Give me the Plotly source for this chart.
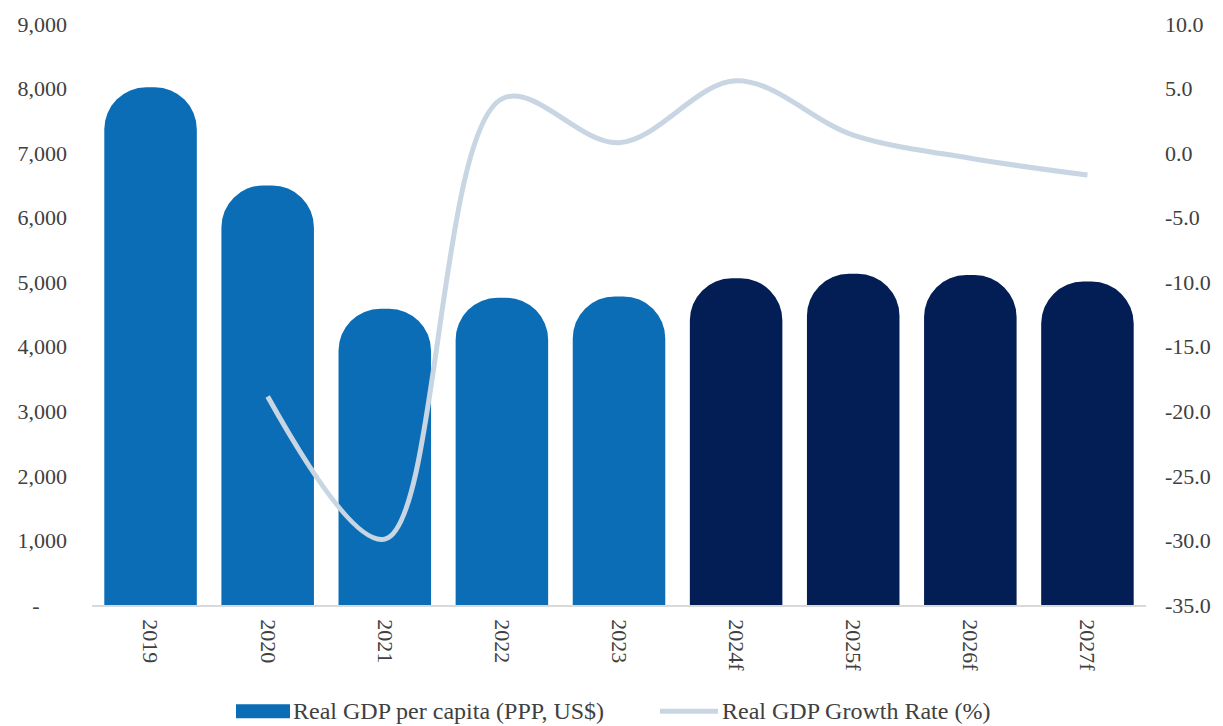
import plotly.graph_objects as go

years = ["2019", "2020", "2021", "2022", "2023", "2024f", "2025f", "2026f", "2027f"]
gdp_per_capita = [8020, 6500, 4590, 4760, 4780, 5060, 5130, 5110, 5010]
growth_years = ["2020", "2021", "2022", "2023", "2024f", "2025f", "2026f", "2027f"]
growth_rate = [-18.85, -29.9, 4.2, 0.8, 5.6, 1.4, -0.4, -1.7]
left_ticks = [0, 1000, 2000, 3000, 4000, 5000, 6000, 7000, 8000, 9000]
left_ticktext = ["-     ", "1,000", "2,000", "3,000", "4,000", "5,000", "6,000", "7,000", "8,000", "9,000"]
right_ticks = [-35, -30, -25, -20, -15, -10, -5, 0, 5, 10]
right_ticktext = ["-35.0", "-30.0", "-25.0", "-20.0", "-15.0", "-10.0", "-5.0", "0.0", "5.0", "10.0"]

LIGHT = "#0A6DB5"
DARK = "#031D55"
LINE = "#C8D5E3"
FONT = "Liberation Serif"
TXT = "#404040"

bar_colors = [DARK if y.endswith("f") else LIGHT for y in years]

fig = go.Figure()
fig.add_trace(go.Bar(x=years, y=gdp_per_capita, marker=dict(color=bar_colors, cornerradius=42, line=dict(width=0)),
                     name="Real GDP per capita (PPP, US$)", showlegend=False))
fig.add_trace(go.Scatter(x=growth_years, y=growth_rate, mode="lines", yaxis="y2",
                         line=dict(color=LINE, width=5, shape="spline", smoothing=1.0),
                         name="Real GDP Growth Rate (%)", showlegend=False))

W, H = 1223, 726
L, R, T, B = 92, 77, 20, 121
pw, ph = W - L - R, H - T - B

def px(x):
    return (x - L) / pw

def py(y):
    return (H - B - y) / ph

shapes = [
    dict(type="rect", xref="paper", yref="paper", x0=px(236), x1=px(290), y0=py(719), y1=py(705),
         fillcolor=LIGHT, line=dict(width=0)),
    dict(type="line", xref="paper", yref="paper", x0=px(660), x1=px(718), y0=py(712), y1=py(712),
         line=dict(color=LINE, width=5)),
]
annotations = [
    dict(xref="paper", yref="paper", x=px(291), y=py(712), xanchor="left", yanchor="middle", showarrow=False,
         text="Real GDP per capita (PPP, US$)", font=dict(family=FONT, size=24, color=TXT)),
    dict(xref="paper", yref="paper", x=px(720), y=py(712), xanchor="left", yanchor="middle", showarrow=False,
         text="Real GDP Growth Rate (%)", font=dict(family=FONT, size=24, color=TXT)),
]

fig.update_layout(
    width=W, height=H,
    margin=dict(l=L, r=R, t=T, b=B),
    paper_bgcolor="white", plot_bgcolor="white",
    bargap=0.21,
    font=dict(family=FONT, size=22, color=TXT),
    xaxis=dict(type="category", tickangle=90, showgrid=False, showline=True, linecolor="#D9D9D9", linewidth=1.5,
               ticks="", tickfont=dict(family=FONT, size=22, color=TXT), ticklabelstandoff=8),
    yaxis=dict(range=[0, 9000], tickvals=left_ticks, ticktext=left_ticktext, showgrid=False, zeroline=False,
               showline=False, ticks="", tickfont=dict(family=FONT, size=22, color=TXT), ticklabelstandoff=24),
    yaxis2=dict(range=[-35, 10], tickvals=right_ticks, ticktext=right_ticktext, overlaying="y", side="right",
                showgrid=False, zeroline=False, showline=False, ticks="",
                tickfont=dict(family=FONT, size=22, color=TXT), ticklabelstandoff=18),
    shapes=shapes, annotations=annotations,
)

fig.write_html("out.html")
